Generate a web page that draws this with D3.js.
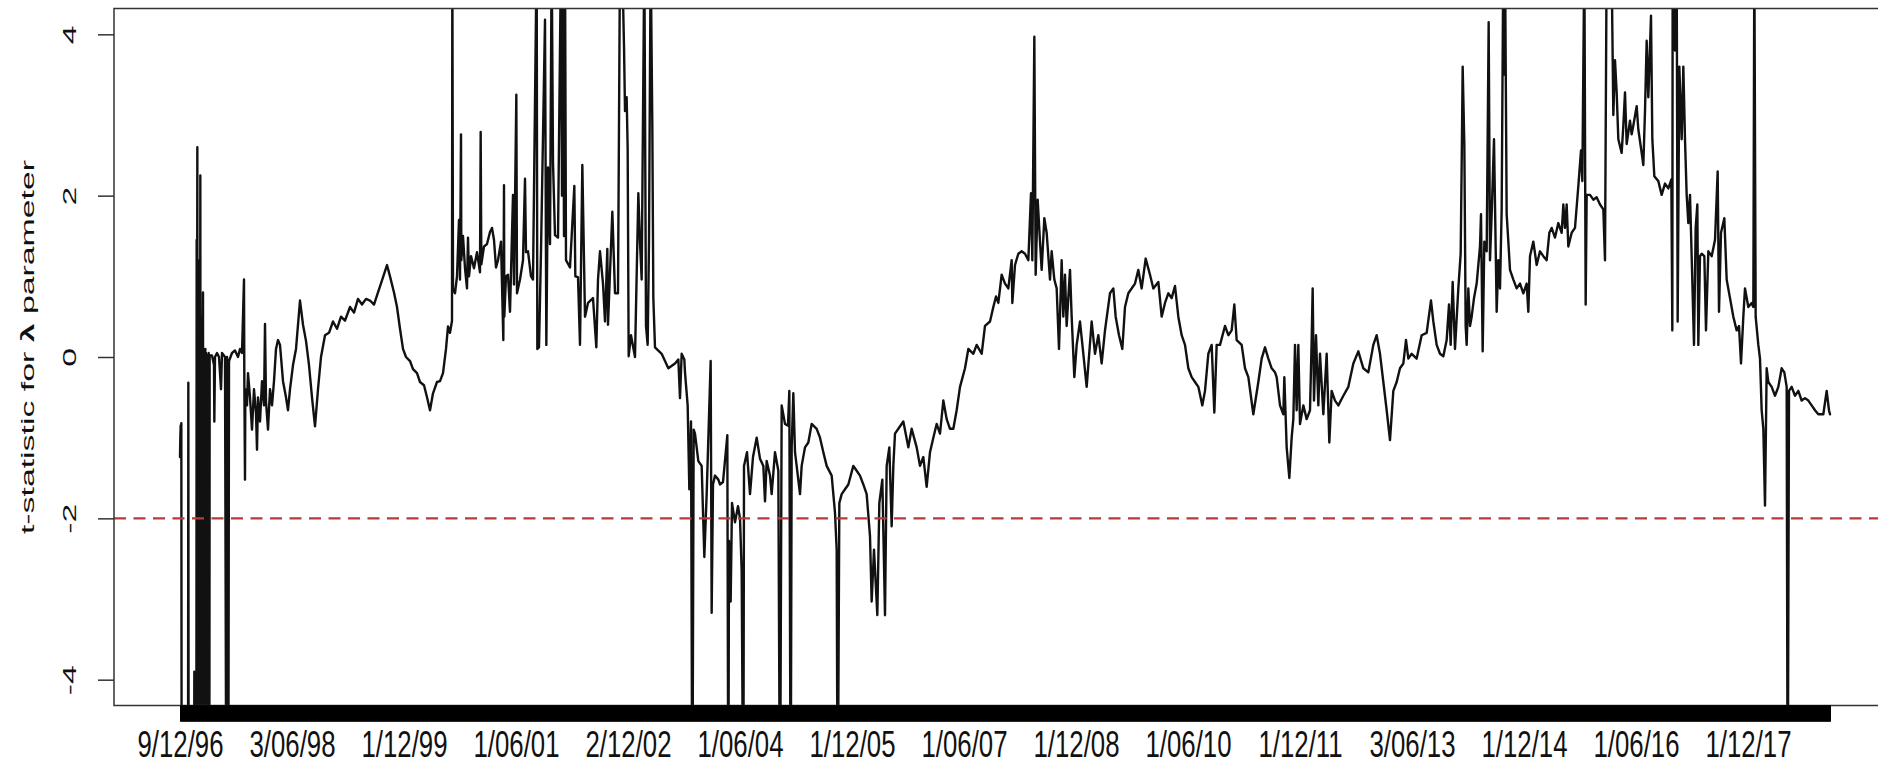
<!DOCTYPE html>
<html>
<head>
<meta charset="utf-8">
<script src="https://cdn.jsdelivr.net/npm/d3@7"></script>
<style>
  html, body { margin: 0; padding: 0; background: #fff; }
  svg { display: block; }
  text { font-family: "Liberation Sans", Arial, Helvetica, sans-serif; fill: #111; }
</style>
</head>
<body>
<svg id="chart" width="1878" height="765"></svg>
<script>
// Number of rolling-window observations (one x tick per observation)
const nObs = 4951;

// Date labels that fit along the x axis and the observations they sit on
const labelObs = [1, 337, 673, 1009, 1345, 1681, 2017, 2353, 2689, 3025, 3361, 3697, 4033, 4369, 4705];
const labelText = ["9/12/96", "3/06/98", "1/12/99", "1/06/01", "2/12/02", "1/06/04", "1/12/05",
                   "1/06/07", "1/12/08", "1/06/10", "1/12/11", "3/06/13", "1/12/14", "1/06/16", "1/12/17"];

// y axis
const yTicks = [-4, -2, 0, 2, 4];
const yLimits = [-4, 4];
const criticalValue = -2;

// [observation, t-statistic]; values beyond the y limits run off the plot region
const tstat = [
  [1,-1.24],[2,-1.0],[3,-0.85],[4,-0.95],[5,-0.82],[6,-6],[25,-6],[26,-0.32],[27,-6],[43,-6],[44,-3.9],[45,-6],
  [50,-6],[51,1.45],[52,-1.5],[53,2.6],[54,-6],[56,0.6],[57,-6],[58,0.4],[59,-6],[60,1.2],[61,-2.5],[62,2.25],
  [63,-6],[64,0.5],[65,0.1],[66,-6],[67,0.3],[68,-6],[69,0.0],[70,0.8],[71,-6],[72,0.1],[73,-6],[74,0.0],
  [75,-0.3],[76,-6],[77,0.1],[78,-6],[79,0.05],[80,-6],[81,-0.1],[82,-6],[83,0.02],[84,-6],[85,0.0],[86,-6],
  [87,0.05],[88,-0.2],[89,-6],[90,0.02],
  [97,0.02],[103,-0.1],[104,-0.8],[106,0.0],[112,0.05],[118,0.0],[124,-0.4],[127,0.05],[136,0.0],[140,-6],
  [142,0.0],[146,-6],[148,-0.05],[157,0.05],[166,0.08],[175,0.0],[181,0.1],[187,0.05],[193,0.96],[194,-0.3],
  [196,-1.52],[197,-0.4],[202,-0.6],[205,-0.2],[211,-0.5],[217,-0.9],[223,-0.4],[229,-0.7],[232,-1.15],
  [235,-0.5],[241,-0.8],[247,-0.3],[253,-0.6],[256,0.41],[259,-0.55],[265,-0.9],[271,-0.4],[277,-0.6],
  [283,-0.3],[289,0.1],[295,0.21],[301,0.15],[310,-0.3],[319,-0.5],[325,-0.66],[331,-0.4],[340,-0.1],
  [349,0.1],[361,0.70],[370,0.4],[379,0.2],[388,-0.1],[397,-0.5],[406,-0.86],[415,-0.4],[424,0.0],
  [436,0.27],[448,0.3],[460,0.44],[472,0.35],[484,0.5],[496,0.45],[511,0.62],[523,0.55],[535,0.72],
  [547,0.65],[559,0.72],[571,0.70],[583,0.65],[595,0.8],[607,0.95],[622,1.14],[631,1.0],[643,0.8],
  [652,0.62],[661,0.35],[670,0.1],[679,0.0],[691,-0.05],[700,-0.15],[712,-0.2],[721,-0.31],[733,-0.35],
  [742,-0.5],[751,-0.66],[760,-0.45],[772,-0.31],[781,-0.3],[790,-0.2],[799,0.1],[805,0.38],[811,0.30],

  [817,0.45],[818,5],[820,0.85],[826,0.79],[832,1.0],[838,1.7],[841,0.96],[844,2.76],[845,1.2],[850,1.5],
  [856,1.1],[862,0.85],[865,1.48],[868,1.0],[874,1.25],[883,1.1],[892,1.3],[901,1.05],[903,2.79],[905,1.15],
  [913,1.37],[922,1.4],[931,1.55],[937,1.6],[943,1.45],[949,1.11],[955,1.2],[964,1.43],[971,0.21],[973,2.13],
  [974,0.5],[979,1.0],[985,1.02],[991,0.56],[1000,2.01],[1003,0.9],[1010,3.25],[1012,0.79],[1021,0.96],
  [1030,1.2],[1036,2.21],[1039,1.3],[1045,1.31],[1054,1.0],[1060,0.96],[1071,5],[1073,0.10],[1078,0.12],
  [1084,1.31],[1096,4.18],[1100,0.15],[1105,2.35],[1111,1.4],[1116,5],[1120,2.41],[1126,1.51],[1135,1.48],
  [1144,5],[1147,2.0],[1150,5],[1153,1.5],[1156,5],[1159,1.2],[1171,1.11],[1184,2.12],[1187,1.0],[1195,0.99],
  [1201,0.15],[1208,2.38],[1216,0.5],[1225,0.67],[1240,0.73],[1250,0.12],[1255,0.96],[1261,1.31],[1270,0.91],
  [1276,0.44],[1283,1.34],[1285,0.40],[1298,1.80],[1306,0.79],[1315,0.79],[1321,5],[1327,5],[1333,3.86],
  [1336,3.05],[1341,3.22],[1344,2.58],[1347,0.01],[1354,0.27],[1366,0.0],[1376,2.03],[1381,1.43],[1386,0.96],
  [1394,5],[1399,0.385],[1404,0.15],[1408,1.43],[1413,5],[1418,2.85],[1421,0.73],[1426,0.12],[1446,0.04],
  [1466,-0.14],[1486,-0.08],[1496,-0.03],[1501,-0.51],[1506,0.04],[1514,-0.03],[1516,-0.19],[1524,-0.6],
  [1529,-1.64],[1534,-0.8],[1538,-6],[1542,-0.9],[1546,-0.95],[1556,-1.29],[1566,-1.35],[1574,-2.48],
  [1581,-1.70],[1593,-0.05],[1596,-3.17],[1600,-1.58],[1606,-1.47],[1616,-1.52],[1621,-1.58],[1630,-1.55],

  [1643,-0.97],[1646,-6],[1648,-2.28],[1653,-3.03],[1657,-1.81],[1666,-2.05],[1675,-1.85],[1681,-2.0],
  [1686,-2.65],[1691,-6],[1693,-1.35],[1702,-1.18],[1711,-1.7],[1720,-1.24],[1731,-1.0],[1741,-1.26],
  [1751,-1.35],[1756,-1.79],[1761,-1.29],[1771,-1.47],[1776,-1.70],[1786,-1.18],[1796,-1.41],[1801,-6],
  [1806,-0.60],[1816,-0.83],[1825,-0.85],[1829,-0.42],[1833,-6],[1836,-1.12],[1841,-0.45],[1846,-1.18],
  [1851,-1.35],[1861,-1.70],[1866,-1.35],[1876,-1.12],[1886,-1.06],[1896,-0.83],[1911,-0.89],[1921,-1.00],
  [1931,-1.18],[1941,-1.35],[1956,-1.47],[1966,-1.93],[1971,-2.39],[1974,-6],[1979,-1.81],[1986,-1.70],
  [1996,-1.64],[2006,-1.58],[2021,-1.35],[2031,-1.41],[2041,-1.47],[2051,-1.58],[2061,-1.70],[2071,-2.22],
  [2076,-3.03],[2083,-2.39],[2093,-3.20],[2099,-1.81],[2108,-1.52],[2116,-3.20],[2121,-1.35],[2129,-1.12],
  [2136,-2.10],[2141,-1.35],[2146,-0.95],[2156,-0.89],[2171,-0.80],[2186,-1.12],[2196,-0.89],[2211,-1.12],
  [2221,-1.35],[2231,-1.24],[2241,-1.61],[2251,-1.18],[2261,-1.00],[2271,-0.83],[2281,-0.95],[2291,-0.54],
  [2301,-0.77],[2311,-0.89],[2321,-0.89],[2331,-0.66],[2341,-0.37],[2356,-0.14],[2366,0.10],[2381,0.04],
  [2391,0.15],[2406,0.04],[2416,0.385],[2431,0.44],[2441,0.62],[2449,0.75],

  [2456,0.67],[2466,1.02],[2476,0.91],[2486,0.85],[2496,1.20],[2498,0.67],[2506,1.14],[2516,1.28],[2526,1.31],
  [2536,1.28],[2546,1.20],[2554,2.03],[2558,1.20],[2564,3.97],[2568,1.02],[2574,1.95],[2581,1.43],[2586,1.08],
  [2594,1.72],[2601,1.54],[2611,0.96],[2616,1.31],[2624,0.96],[2631,0.85],[2638,0.10],[2646,1.20],[2651,0.50],
  [2656,1.02],[2661,0.385],[2671,1.08],[2676,0.50],[2684,-0.25],[2691,0.15],[2701,0.44],[2711,0.04],
  [2721,-0.37],[2736,0.44],[2746,0.04],[2756,0.27],[2766,-0.08],[2776,0.33],[2791,0.79],[2801,0.85],
  [2808,0.50],[2818,0.27],[2828,0.10],[2836,0.62],[2846,0.79],[2866,0.91],[2876,1.08],[2886,0.85],[2898,1.22],
  [2911,1.02],[2921,0.85],[2936,0.93],[2946,0.50],[2956,0.67],[2966,0.79],[2976,0.73],[2986,0.88],[2996,0.50],
  [3006,0.27],[3016,0.15],[3026,-0.14],[3036,-0.25],[3046,-0.31],[3056,-0.37],[3068,-0.60],[3076,-0.42],
  [3086,0.04],[3096,0.15],[3104,-0.69],[3111,0.15],[3121,0.15],[3136,0.385],[3146,0.27],[3156,0.33],
  [3164,0.65],[3171,0.21],[3186,0.15],[3196,-0.14],[3206,-0.25],[3221,-0.71],[3236,-0.31],[3246,-0.02],
  [3256,0.12],[3266,-0.02],[3276,-0.14],[3286,-0.19],

  [3291,-0.25],[3301,-0.60],[3311,-0.71],[3314,-0.25],[3321,-1.12],[3329,-1.50],[3336,-1.00],[3341,-0.77],
  [3346,0.15],[3351,-0.66],[3356,0.15],[3361,-0.83],[3371,-0.60],[3381,-0.77],[3391,-0.66],[3396,0.21],
  [3399,0.85],[3403,-0.54],[3409,0.27],[3416,-0.60],[3421,0.04],[3431,-0.71],[3441,0.04],[3449,-1.06],
  [3456,-0.42],[3466,-0.54],[3476,-0.60],[3491,-0.48],[3506,-0.37],[3521,-0.08],[3536,0.07],[3551,-0.14],
  [3566,-0.19],[3581,0.15],[3591,0.27],[3601,0.04],[3611,-0.31],[3621,-0.66],[3631,-1.03],[3641,-0.42],
  [3651,-0.31],[3661,-0.14],[3671,-0.08],[3679,0.21],[3686,-0.02],[3696,0.04],[3711,-0.02],[3726,0.27],
  [3741,0.30],[3754,0.70],[3761,0.44],[3771,0.15],[3781,0.04],[3791,0.01],[3801,0.21],[3808,0.65],[3813,0.15],
  [3819,0.93],[3826,0.10],[3836,0.85],[3843,1.28],[3846,2.38],[3849,3.60],[3854,2.64],[3858,0.385],[3861,0.15],
  [3866,0.85],[3871,0.385],[3876,0.50],[3883,0.73],[3891,0.91],[3901,1.37],[3904,1.77],[3909,0.07],[3914,1.43],
  [3921,1.31],[3927,4.15],[3931,1.20],[3936,1.77],[3943,2.70],[3951,0.56],[3956,1.20],[3961,0.85],[3966,1.83],
  [3971,5],[3973,3.5],[3976,5],[3981,1.77],[3986,1.43],[3991,1.08],[4001,0.96],[4011,0.85],[4021,0.91],
  [4031,0.79],[4041,0.91],[4046,0.56],[4051,1.25],[4061,1.43],[4071,1.14],[4081,1.31],[4091,1.25],[4101,1.20],

  [4109,1.54],[4116,1.60],[4126,1.48],[4136,1.66],[4146,1.54],[4151,1.89],[4156,1.6],[4161,1.89],[4166,1.37],
  [4176,1.54],[4186,1.60],[4196,2.12],[4204,2.56],[4208,2.18],[4214,5],[4218,0.65],[4221,2.01],[4231,2.01],
  [4241,1.95],[4251,1.98],[4261,1.89],[4271,1.83],[4276,1.20],[4281,5],[4288,4.5],[4294,5.5],[4301,3.0],
  [4306,3.68],[4311,3.28],[4316,2.70],[4326,2.53],[4331,2.87],[4336,3.28],[4341,2.64],[4351,2.93],[4356,2.76],
  [4361,2.87],[4371,3.11],[4376,2.82],[4386,2.53],[4391,2.38],[4396,3.05],[4401,3.92],[4406,3.22],[4414,4.23],
  [4418,2.70],[4424,2.24],[4436,2.18],[4446,2.01],[4456,2.15],[4466,2.09],[4475,2.2],[4478,0.33],[4479,5],
  [4486,3.80],[4491,5],[4494,0.44],[4499,3.60],[4506,2.70],[4511,3.60],[4516,2.70],[4521,2.01],[4526,1.66],
  [4531,2.01],[4536,1.25],[4543,0.15],[4548,1.60],[4553,1.89],[4556,0.15],[4561,1.25],[4566,1.28],[4574,1.25],
  [4579,0.33],[4586,1.31],[4596,1.25],[4606,1.45],[4614,2.30],[4618,0.56],[4624,1.54],[4634,1.72],[4641,0.96],
  [4651,0.73],[4661,0.50],[4671,0.33],[4678,0.385],[4684,-0.08],[4691,0.50],[4696,0.85],[4706,0.62],[4716,0.67],
  [4721,0.62],[4724,5],[4728,0.50],[4736,0.15],[4741,-0.02],[4746,-0.66],[4751,-0.89],[4756,-1.84],[4761,-0.14],
  [4766,-0.31],[4776,-0.37],[4786,-0.48],[4796,-0.37],[4806,-0.14],[4814,-0.19],[4821,-0.37],[4824,-6],
  [4828,-0.42],[4836,-0.37],[4846,-0.48],[4856,-0.42],[4866,-0.54],[4876,-0.51],[4886,-0.54],[4896,-0.60],
  [4906,-0.66],[4916,-0.71],[4931,-0.71],[4941,-0.42],[4948,-0.66],[4951,-0.71]
];

const svg = d3.select("#chart");

// plot region (R style: axes padded by 4% on each side)
const plot = { left: 114, right: 1896, top: 8.5, bottom: 705.5 };
const xPad = 0.04 * (nObs - 1);
const x = d3.scaleLinear().domain([1 - xPad, nObs + xPad]).range([plot.left, plot.right]);
const yPad = 0.04 * (yLimits[1] - yLimits[0]);
const y = d3.scaleLinear().domain([yLimits[0] - yPad, yLimits[1] + yPad]).range([plot.bottom, plot.top]);

svg.append("defs").append("clipPath").attr("id", "plot-clip")
  .append("rect")
  .attr("x", plot.left).attr("y", plot.top)
  .attr("width", plot.right - plot.left).attr("height", plot.bottom - plot.top);

// t-statistic series
const line = d3.line().x(d => x(d[0])).y(d => y(d[1]));
svg.append("path")
  .datum(tstat)
  .attr("clip-path", "url(#plot-clip)")
  .attr("d", line)
  .attr("fill", "none")
  .attr("stroke", "#111")
  .attr("stroke-width", 2.4)
  .attr("stroke-linejoin", "round")
  .attr("stroke-linecap", "round");

// critical value
svg.append("line")
  .attr("x1", plot.left).attr("x2", plot.right)
  .attr("y1", y(criticalValue)).attr("y2", y(criticalValue))
  .attr("stroke", "#b83a3a")
  .attr("stroke-width", 2.2)
  .attr("stroke-dasharray", "12,7.5");

// plot box
svg.append("rect")
  .attr("x", plot.left).attr("y", plot.top)
  .attr("width", plot.right - plot.left).attr("height", plot.bottom - plot.top)
  .attr("fill", "none").attr("stroke", "#333").attr("stroke-width", 1.5);

// x axis: a tick for every observation
const xTickAxis = svg.append("g")
  .attr("transform", `translate(0,${plot.bottom})`)
  .call(d3.axisBottom(x).tickValues(d3.range(1, nObs + 1)).tickSize(16).tickSizeOuter(0).tickFormat(""));
xTickAxis.select(".domain").remove();
xTickAxis.selectAll(".tick text").remove();
xTickAxis.selectAll(".tick line").attr("stroke", "#000").attr("stroke-width", 1);

// x axis date labels
const xLabAxis = svg.append("g")
  .attr("transform", `translate(0,${plot.bottom})`)
  .call(d3.axisBottom(x).tickValues(labelObs).tickSize(0).tickFormat((d, i) => labelText[i]));
xLabAxis.select(".domain").remove();
xLabAxis.selectAll(".tick text")
  .attr("y", null).attr("dy", null)
  .attr("transform", "translate(0,51.5) scale(1,1.46)")
  .attr("font-size", 25.8)
  .attr("fill", "#111")
  .style("font-family", "'Liberation Sans', Arial, sans-serif");

// y axis
const yAxis = svg.append("g")
  .attr("transform", `translate(${plot.left},0)`)
  .call(d3.axisLeft(y).tickValues(yTicks).tickSize(16).tickSizeOuter(0)
    .tickFormat(d => (d < 0 ? "-" + Math.abs(d) : String(d))));
yAxis.select(".domain").remove();
yAxis.selectAll(".tick line").attr("stroke", "#333").attr("stroke-width", 1.5);
yAxis.selectAll(".tick text")
  .attr("x", null).attr("dy", null).attr("y", null)
  .attr("text-anchor", "middle")
  .attr("transform", "translate(-38,0) scale(1,1.82) rotate(-90)")
  .attr("font-size", 18.5)
  .attr("fill", "#111")
  .style("font-family", "'Liberation Sans', Arial, sans-serif");

// y axis title
const yTitle = svg.append("text")
  .attr("text-anchor", "middle")
  .attr("transform", "translate(33.5,347) scale(1,1.83) rotate(-90)")
  .attr("font-size", 18.5);
yTitle.append("tspan").text("t-statistic for ");
yTitle.append("tspan").attr("font-weight", "bold").text("λ");
yTitle.append("tspan").text(" parameter");
</script>
</body>
</html>
